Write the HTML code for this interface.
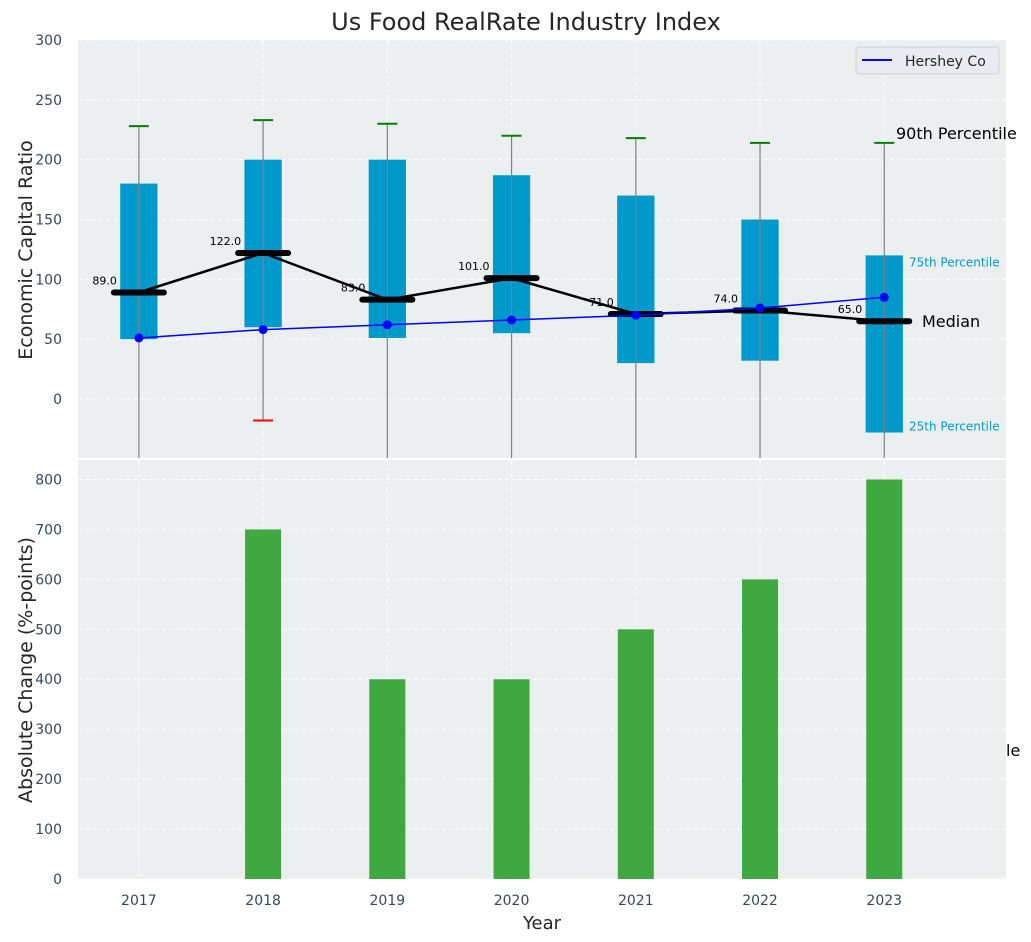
<!DOCTYPE html>
<html><head><meta charset="utf-8"><style>
html,body{margin:0;padding:0;background:#fff;}
svg{display:block;font-family:"DejaVu Sans","Liberation Sans",sans-serif;}
</style></head><body>
<svg id="chart" width="1031" height="942" viewBox="0 0 1031 942" xmlns="http://www.w3.org/2000/svg"></svg>
<script>
const years = [2017, 2018, 2019, 2020, 2021, 2022, 2023];
const p90 = [228, 233, 230, 220, 218, 214, 214];
const p75 = [180, 200, 200, 187, 170, 150, 120];
const medians = [89, 122, 83, 101, 71, 74, 65];
const p25 = [50, 60, 51, 55, 30, 32, -28];
const p10 = [-80, -18, -80, -80, -80, -80, -80];
const hershey = [51, 58, 62, 66, 70, 76, 85];
const absChange = [0, 700, 400, 400, 500, 600, 800];
const topTicks = [0, 50, 100, 150, 200, 250, 300];
const botTicks = [0, 100, 200, 300, 400, 500, 600, 700, 800];

const NS = "http://www.w3.org/2000/svg";
const svg = document.getElementById('chart');
function mk(tag, attrs, parent, name, inter) {
  const e = document.createElementNS(NS, tag);
  for (const k in attrs) e.setAttribute(k, attrs[k]);
  
  
  (parent || svg).appendChild(e);
  return e;
}
const L = 78, R = 1006;
const T1 = 40, B1 = 458, T2 = 460, B2 = 879;
const xmin = 2016.51, xmax = 2023.98;
const x = v => L + (v - xmin) / (xmax - xmin) * (R - L);
const y1min = -49.3, y1max = 300;
const y1 = v => B1 - (v - y1min) / (y1max - y1min) * (B1 - T1);
const y2max = 839;
const y2 = v => B2 - v / y2max * (B2 - T2);

const title = mk('text', {x: 526, y: 30, 'text-anchor': 'middle', 'font-size': 24, fill: '#262626'}, svg, 'chart-title');
title.textContent = 'Us Food RealRate Industry Index';

mk('rect', {x: L, y: T1, width: R - L, height: B1 - T1, fill: '#ebeff0'}, svg, 'top-plot-area');
mk('rect', {x: L, y: T2, width: R - L, height: B2 - T2, fill: '#ebeff0'}, svg, 'bottom-plot-area');

const gGrid = mk('g', {stroke: '#ffffff', 'stroke-dasharray': '4,3', 'stroke-width': 1}, svg, 'gridlines');
topTicks.forEach(t => {
  mk('line', {x1: L, x2: R, y1: y1(t), y2: y1(t)}, gGrid, 'top-y-gridline');
  const tx = mk('text', {x: 62, y: y1(t) + 5, 'text-anchor': 'end', 'font-size': 14, fill: '#34495e', stroke: 'none'}, svg, 'top-y-tick-label');
  tx.textContent = t;
});
botTicks.forEach(t => {
  mk('line', {x1: L, x2: R, y1: y2(t), y2: y2(t)}, gGrid, 'bottom-y-gridline');
  const tx = mk('text', {x: 62, y: y2(t) + 5, 'text-anchor': 'end', 'font-size': 14, fill: '#34495e'}, svg, 'bottom-y-tick-label');
  tx.textContent = t;
});
years.forEach(yr => {
  mk('line', {x1: x(yr), x2: x(yr), y1: T1, y2: B1}, gGrid, 'top-x-gridline');
  mk('line', {x1: x(yr), x2: x(yr), y1: T2, y2: B2}, gGrid, 'bottom-x-gridline');
  const tx = mk('text', {x: x(yr), y: 905, 'text-anchor': 'middle', 'font-size': 14, fill: '#34495e'}, svg, 'x-tick-label');
  tx.textContent = yr;
});

const bw = 0.3;
years.forEach((yr, i) => {
  mk('rect', {x: x(yr - bw / 2), y: y1(p75[i]), width: x(yr + bw / 2) - x(yr - bw / 2), height: y1(p25[i]) - y1(p75[i]), fill: '#0099cc'}, svg, 'iqr-box-' + yr);
});
const clipT = mk('clipPath', {id: 'clipTop'}, svg, 'top-clip');
mk('rect', {x: L, y: T1, width: R - L, height: B1 - T1}, clipT, 'top-clip-rect');
const gW = mk('g', {'clip-path': 'url(#clipTop)'}, svg, 'whiskers');
years.forEach((yr, i) => {
  mk('line', {x1: x(yr), x2: x(yr), y1: y1(p90[i]), y2: y1(p10[i]), stroke: '#808080', 'stroke-width': 1.2}, gW, 'whisker-' + yr);
  mk('line', {x1: x(yr) - 10, x2: x(yr) + 10, y1: y1(p90[i]), y2: y1(p90[i]), stroke: 'green', 'stroke-width': 2}, gW, 'p90-cap-' + yr);
  mk('line', {x1: x(yr) - 10, x2: x(yr) + 10, y1: y1(p10[i]), y2: y1(p10[i]), stroke: 'red', 'stroke-width': 2}, gW, 'p10-cap-' + yr);
});

mk('polyline', {points: years.map((yr, i) => x(yr) + ',' + y1(medians[i])).join(' '), fill: 'none', stroke: '#000', 'stroke-width': 2.5}, svg, 'median-line');
years.forEach((yr, i) => {
  mk('line', {x1: x(yr) - 25, x2: x(yr) + 25, y1: y1(medians[i]), y2: y1(medians[i]), stroke: '#000', 'stroke-width': 6, 'stroke-linecap': 'round'}, svg, 'median-marker-' + yr);
  const t = mk('text', {x: x(yr) - 22, y: y1(medians[i]) - 8, 'text-anchor': 'end', 'font-size': 11, fill: '#000'}, svg, 'median-label-' + yr);
  t.textContent = medians[i].toFixed(1);
});

mk('polyline', {points: years.map((yr, i) => x(yr) + ',' + y1(hershey[i])).join(' '), fill: 'none', stroke: '#0000ff', 'stroke-width': 1.5}, svg, 'hershey-line');
years.forEach((yr, i) => {
  mk('circle', {cx: x(yr), cy: y1(hershey[i]), r: 4.5, fill: '#0000ff'}, svg, 'hershey-point-' + yr);
});

const last = years.length - 1;
let a = mk('text', {x: 896, y: y1(p90[last]) - 4, 'font-size': 16, fill: '#000'}, svg, 'p90-annotation'); a.textContent = '90th Percentile';
a = mk('text', {x: 922, y: y1(medians[last]) + 6, 'font-size': 16, fill: '#000'}, svg, 'median-annotation'); a.textContent = 'Median';
a = mk('text', {x: 909, y: y1(p75[last]) + 11, 'font-size': 12, fill: '#0099cc'}, svg, 'p75-annotation'); a.textContent = '75th Percentile';
a = mk('text', {x: 909, y: y1(p25[last]) - 2, 'font-size': 12, fill: '#0099cc'}, svg, 'p25-annotation'); a.textContent = '25th Percentile';
a = mk('text', {x: 1006, y: 756, 'font-size': 16, fill: '#000'}, svg, 'clipped-annotation'); a.textContent = 'le';

const lg = mk('g', {}, svg, 'legend');
mk('rect', {x: 856, y: 47, width: 143, height: 27, rx: 3, fill: '#eaeaf2', stroke: '#d0d0d8'}, lg, 'legend-box');
mk('line', {x1: 862, x2: 892, y1: 60, y2: 60, stroke: '#0000ff', 'stroke-width': 2}, lg, 'legend-hershey-swatch');
a = mk('text', {x: 905, y: 66, 'font-size': 14, fill: '#262626'}, lg, 'legend-hershey-label'); a.textContent = 'Hershey Co';

years.forEach((yr, i) => {
  mk('rect', {x: x(yr - 0.145), y: y2(absChange[i]), width: x(yr + 0.145) - x(yr - 0.145), height: y2(0) - y2(absChange[i]), fill: '#2ca02c', opacity: 0.9}, svg, 'bar-' + yr);
});

a = mk('text', {x: 25, y: 257, transform: 'rotate(-90 25 250)', 'text-anchor': 'middle', 'font-size': 19, fill: '#262626'}, svg, 'top-y-axis-title');
a.textContent = 'Economic Capital Ratio';
a = mk('text', {x: 25, y: 677, transform: 'rotate(-90 25 670)', 'text-anchor': 'middle', 'font-size': 19, fill: '#262626'}, svg, 'bottom-y-axis-title');
a.textContent = 'Absolute Change (%-points)';
a = mk('text', {x: 542, y: 929, 'text-anchor': 'middle', 'font-size': 18, fill: '#262626'}, svg, 'x-axis-title');
a.textContent = 'Year';
</script>
</body></html>
